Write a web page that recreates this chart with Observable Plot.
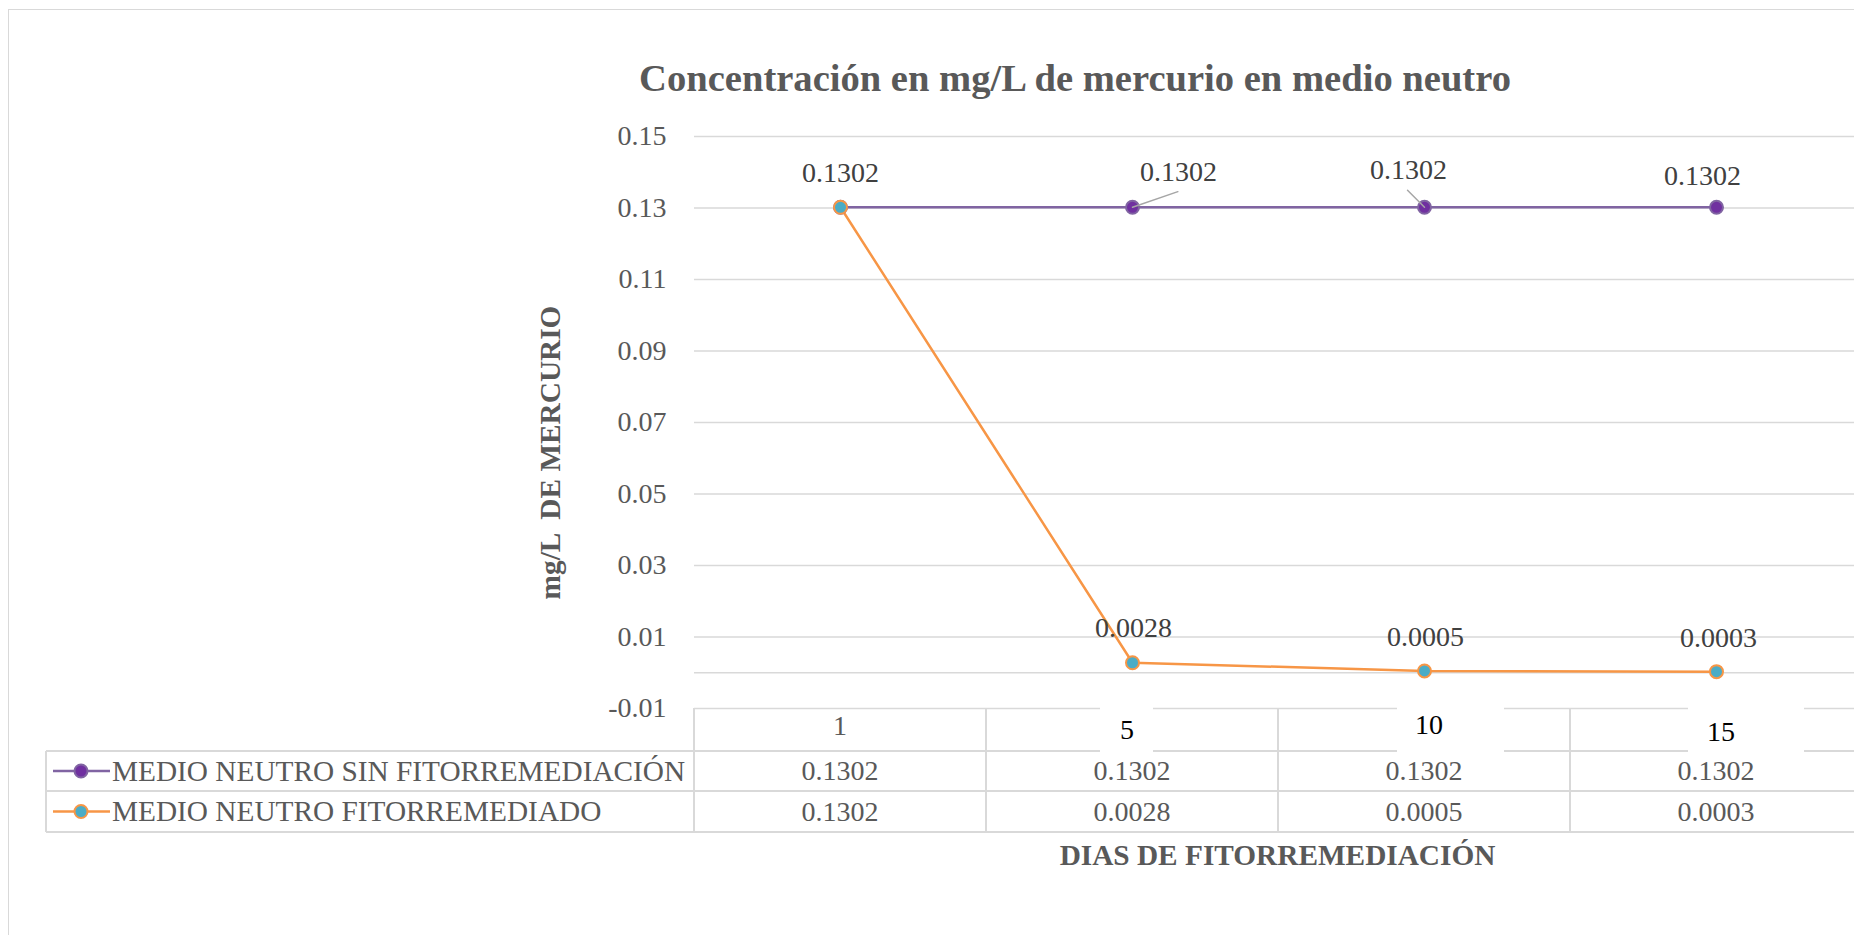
<!DOCTYPE html>
<html><head><meta charset="utf-8">
<script src="https://cdn.jsdelivr.net/npm/d3@7"></script>
<script src="https://cdn.jsdelivr.net/npm/@observablehq/plot@0.6"></script>
<style>
html,body{margin:0;padding:0;background:#fff;overflow:hidden;}
#root{position:relative;width:1854px;height:935px;overflow:hidden;font-family:"Liberation Serif","Times New Roman",serif;}
.abs{position:absolute;}
#root svg{position:absolute;left:0;top:0;}
</style></head><body><div id="root"></div>
<script>
// ---------- data ----------
const days = ["1", "5", "10", "15"];
const seriesNames = ["MEDIO NEUTRO SIN FITORREMEDIACIÓN", "MEDIO NEUTRO FITORREMEDIADO"];
const sinFito = [0.1302, 0.1302, 0.1302, 0.1302];
const fito = [0.1302, 0.0028, 0.0005, 0.0003];
const yTicks = [-0.01, 0.01, 0.03, 0.05, 0.07, 0.09, 0.11, 0.13, 0.15];
const titleText = "Concentración en mg/L de mercurio en medio neutro";
const yTitleText = "mg/L  DE MERCURIO";
const xTitleText = "DIAS DE FITORREMEDIACIÓN";

// ---------- styles ----------
const colors = [
  {line: "#8064A2", fill: "#7030A0", stroke: "#8064A2"},
  {line: "#F79646", fill: "#4BACC6", stroke: "#F79646"}
];
const grid = "#d9d9d9";
// label offsets in px (dx, dy) per series/point; null = hidden
const labelOffsets = [
  [[0, -34], [46, -35], [-16, -37], [-14, -31]],
  [null, [1, -35], [1, -34], [2, -34]]
];
// leader lines: series, point, length px, rotation deg
const leaders = [[0, 1, 48, 71], [0, 2, 24, -45]];
const headerBoxes = {"5": [-27, 26], "10": [-32, 75], "15": [-33, 83]};
const headerDy = {"1": -4, "5": 0, "10": -5, "15": 2};
const headerDx = {"1": 0, "5": -5, "10": 5, "15": 5};

const series = [sinFito, fito];
const rows = series.map((vals, s) => days.map((d, i) => ({day: d, v: vals[i], s, i})));

const root = document.getElementById("root");
function div(css, text) {
  const e = document.createElement("div");
  e.className = "abs";
  e.style.cssText = css;
  if (text != null) e.textContent = text;
  root.appendChild(e);
  return e;
}

// outer border
div(`left:8px;top:9px;width:3000px;height:3000px;border:1.5px solid ${grid};`);

const marks = [
  Plot.ruleY(yTicks, {stroke: grid, strokeWidth: 1.5}),
  Plot.ruleY([0], {stroke: grid, strokeWidth: 1.5}),
  Plot.axisY({ticks: yTicks, tickSize: 0, tickPadding: 28, tickFormat: d => d.toFixed(2), fontSize: 28, label: null})
];
rows.forEach((r, s) => {
  marks.push(Plot.line(r, {x: "day", y: "v", stroke: colors[s].line, strokeWidth: 2.5}));
});
rows.forEach((r, s) => {
  marks.push(Plot.dot(r, {x: "day", y: "v", r: 6.5, fill: colors[s].fill, stroke: colors[s].stroke, strokeWidth: 2}));
});
const leaderShape = {draw(ctx, l) { ctx.moveTo(0, 0); ctx.lineTo(0, -l); }};
leaders.forEach(([s, i, len, rot]) => {
  marks.push(Plot.vector([rows[s][i]], {x: "day", y: "v", length: len, rotate: rot, anchor: "start", shape: leaderShape, stroke: "#a6a6a6", strokeWidth: 1.5}));
});
rows.forEach((r, s) => {
  r.forEach((p, i) => {
    const off = labelOffsets[s][i];
    if (!off) return;
    marks.push(Plot.text([p], {x: "day", y: "v", text: d => d.v.toFixed(4), dx: off[0], dy: off[1], fill: "#404040", fontSize: 28}));
  });
});

const plot = Plot.plot({
  width: 1854, height: 935,
  marginLeft: 694, marginRight: 0, marginTop: 136, marginBottom: 227,
  x: {type: "point", domain: days, range: [692, 1863], padding: 0.5, axis: null},
  y: {domain: [-0.01, 0.15], axis: null},
  style: {fontFamily: "Liberation Serif", fontSize: "28px", color: "#595959", background: "transparent", overflow: "visible"},
  marks
});

// title
div(`left:1075px;top:59px;transform:translateX(-50%);white-space:pre;font-weight:bold;font-size:38.6px;line-height:38px;color:#595959;`, titleText);
// y title
div(`left:350px;top:437.5px;width:400px;height:29px;line-height:29px;text-align:center;transform:rotate(-90deg);white-space:pre;font-weight:bold;font-size:29.3px;color:#595959;`, yTitleText);

root.appendChild(plot);

// ---------- data table ----------
const xs = plot.scale("x");
const ys = plot.scale("y");
const step = xs.step ?? (xs.range[1] - xs.range[0]) / (days.length - 1 + 2 * xs.padding);
const top0 = ys.apply(-0.01);
const headerH = 43;
const rowH = [40, 41];
const legendLeft = 46;
const rowTops = [top0 + headerH, top0 + headerH + rowH[0]];
const tableBottom = rowTops[1] + rowH[1];
const lw = 2;

function hline(x1, x2, yy) { div(`left:${x1}px;top:${yy - lw/2}px;width:${x2 - x1}px;height:${lw}px;background:${grid};`); }
function vline(xx, y1, y2) { div(`left:${xx - lw/2}px;top:${y1}px;width:${lw}px;height:${y2 - y1}px;background:${grid};`); }

hline(legendLeft, 1900, rowTops[0]);
hline(legendLeft, 1900, rowTops[1]);
hline(legendLeft, 1900, tableBottom);
vline(legendLeft, rowTops[0], tableBottom);
days.forEach((d, i) => vline(Math.max(xs.apply(d) - step / 2, i === 0 ? 694 : 0), top0, tableBottom));

// header labels
days.forEach(d => {
  const cx = xs.apply(d) + (headerDx[d] || 0);
  const box = headerBoxes[d];
  if (box) {
    div(`left:${cx + box[0]}px;top:${top0 - 3}px;width:${box[1] - box[0]}px;height:${headerH + 5}px;background:#fff;`);
  }
  div(`left:${cx - step/2}px;top:${top0 + (headerDy[d] || 0)}px;width:${step}px;height:${headerH}px;display:flex;align-items:center;justify-content:center;font-size:28px;color:${box ? "#000" : "#595959"};`, d);
});

// rows
series.forEach((vals, s) => {
  const t = rowTops[s], h = rowH[s];
  // legend key
  const key = div(`left:${legendLeft + 6}px;top:${t}px;width:60px;height:${h}px;`);
  const cy = h / 2;
  key.innerHTML = `<svg width="60" height="${h}" style="position:absolute;left:0;top:0"><line x1="1" x2="58" y1="${cy}" y2="${cy}" stroke="${colors[s].line}" stroke-width="2.5"/><circle cx="29" cy="${cy}" r="6.5" fill="${colors[s].fill}" stroke="${colors[s].stroke}" stroke-width="2"/></svg>`;
  div(`left:${legendLeft + 66}px;top:${t}px;height:${h}px;display:flex;align-items:center;white-space:pre;font-size:29.3px;color:#595959;`, seriesNames[s]);
  vals.forEach((v, i) => {
    const cx = xs.apply(days[i]);
    div(`left:${cx - step/2}px;top:${t}px;width:${step}px;height:${h}px;display:flex;align-items:center;justify-content:center;font-size:28px;color:#595959;`, v.toFixed(4));
  });
});

// x title
div(`left:${(xs.range[0] + xs.range[1]) / 2}px;top:840px;transform:translateX(-50%);white-space:pre;font-weight:bold;font-size:29.3px;line-height:30px;color:#595959;`, xTitleText);
</script>
</body></html>
